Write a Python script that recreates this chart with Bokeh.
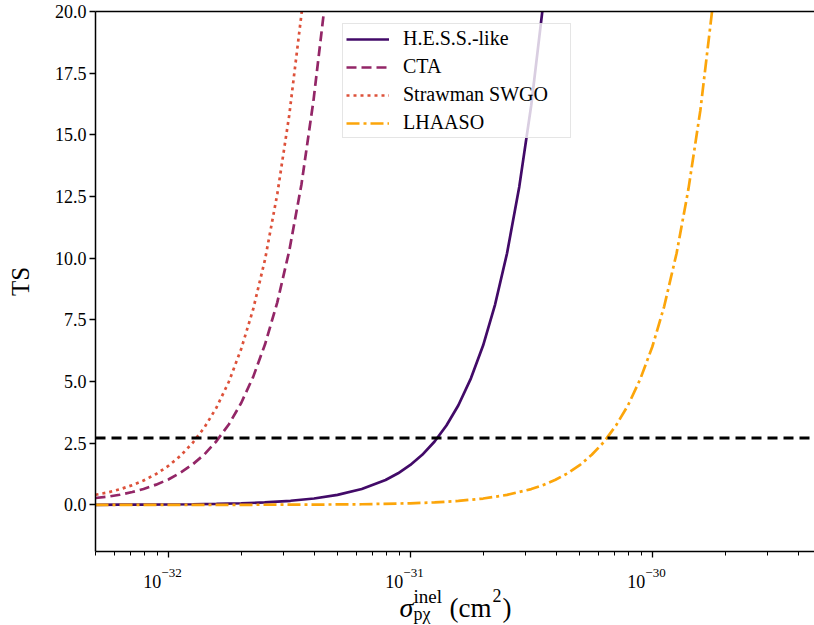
import numpy as np
from bokeh.plotting import figure
from bokeh.layouts import column
from bokeh.models import (Span, Legend, LegendItem, FixedTicker, CustomJSTickFormatter,
                          LogAxis, NumeralTickFormatter, Range1d, LinearScale)
from bokeh.core.properties import value
from bokeh.embed import file_html
from bokeh.resources import INLINE

# ---------------- data ----------------
sigma_hess = [5.0e-33, 6.3e-33, 7.9e-33, 1.0e-32, 1.26e-32, 1.58e-32, 2.0e-32, 2.5e-32, 3.2e-32,
              4.0e-32, 5.0e-32, 6.3e-32, 7.9e-32, 8.9e-32, 1.0e-31, 1.12e-31, 1.26e-31, 1.41e-31,
              1.58e-31, 1.78e-31, 2.0e-31, 2.24e-31, 2.51e-31, 2.82e-31, 3.16e-31, 3.55e-31, 3.98e-31]
ts_hess = [0.004, 0.0064, 0.010, 0.016, 0.026, 0.040, 0.065, 0.10, 0.166,
           0.259, 0.405, 0.642, 1.01, 1.28, 1.62, 2.03, 2.57, 3.22,
           4.04, 5.13, 6.47, 8.12, 10.2, 12.9, 16.2, 20.4, 25.6]

sigma_cta = [5.0e-33, 5.6e-33, 6.3e-33, 7.1e-33, 7.9e-33, 8.9e-33, 1.0e-32, 1.12e-32, 1.26e-32,
             1.41e-32, 1.58e-32, 1.78e-32, 2.0e-32, 2.24e-32, 2.51e-32, 2.82e-32, 3.16e-32,
             3.55e-32, 3.98e-32, 4.47e-32, 5.0e-32]
ts_cta = [0.28, 0.33, 0.41, 0.52, 0.645, 0.82, 1.03, 1.30, 1.64,
          2.05, 2.58, 3.27, 4.13, 5.18, 6.51, 8.21, 10.3,
          13.0, 16.4, 20.6, 25.8]

sigma_swgo = [5.0e-33, 5.6e-33, 6.3e-33, 7.1e-33, 7.9e-33, 8.9e-33, 1.0e-32, 1.12e-32, 1.26e-32,
              1.41e-32, 1.58e-32, 1.78e-32, 2.0e-32, 2.24e-32, 2.51e-32, 2.82e-32, 3.16e-32,
              3.55e-32, 3.98e-32]
ts_swgo = [0.41, 0.50, 0.63, 0.80, 0.99, 1.25, 1.58, 1.98, 2.51,
           3.14, 3.94, 5.00, 6.32, 7.92, 9.95, 12.6, 15.8,
           19.9, 25.0]

sigma_lhaaso = [5.0e-33, 1.0e-32, 2.0e-32, 4.0e-32, 6.3e-32, 1.0e-31, 1.26e-31, 1.58e-31, 2.0e-31,
                2.51e-31, 3.16e-31, 3.55e-31, 3.98e-31, 4.47e-31, 5.01e-31, 5.62e-31, 6.31e-31,
                7.08e-31, 7.94e-31, 8.91e-31, 1.0e-30, 1.12e-30, 1.26e-30, 1.41e-30, 1.58e-30,
                1.78e-30, 2.0e-30]
ts_lhaaso = [0.0002, 0.0006, 0.0026, 0.010, 0.025, 0.064, 0.10, 0.16, 0.257,
             0.404, 0.64, 0.81, 1.02, 1.28, 1.61, 2.03, 2.55,
             3.22, 4.04, 5.09, 6.41, 8.05, 10.2, 12.8, 16.0,
             20.3, 25.7]

threshold = 2.71
series_labels = ["H.E.S.S.-like", "CTA", "Strawman SWGO", "LHAASO"]
x_major_ticks = [1e-32, 1e-31, 1e-30]
x_tick_base = ["10", "10", "10"]
x_tick_exp = ["\u221232", "\u221231", "\u221230"]
y_ticks = [0.0, 2.5, 5.0, 7.5, 10.0, 12.5, 15.0, 17.5, 20.0]

# ---------------- styling ----------------
colors = ["#420a68", "#932667", "#dd513a", "#fca50a"]
FONT = "Liberation Serif"
XMIN, XMAX = 5e-33, 4.68e-30
YMIN, YMAX = -1.89, 20.0
W = 814
TOP_H = 559           # main plot height (frame 11..551)
BOT_H = 625 - TOP_H   # strip holding x tick labels and x-axis title

p = figure(x_axis_type="log", x_range=Range1d(XMIN, XMAX), y_range=Range1d(YMIN, YMAX),
           width=W, height=TOP_H, output_backend="svg", toolbar_location=None,
           min_border_left=95, min_border_right=0, min_border_top=11, min_border_bottom=8)
p.grid.visible = False
p.outline_line_color = None
p.background_fill_color = "white"
p.border_fill_color = "white"

minor = [m * 10.0 ** e for e in range(-34, -28) for m in range(2, 10)]
minor = [t for t in minor if XMIN * 0.999 <= t <= XMAX]

xb = p.below[0]
xb.ticker = FixedTicker(ticks=x_major_ticks, minor_ticks=minor)
xb.formatter = CustomJSTickFormatter(code="return '';")
xb.major_label_text_font_size = "1px"
xb.major_label_standoff = 0
xb.major_tick_out = 6
xb.major_tick_in = 0
xb.minor_tick_out = 4
xb.minor_tick_in = 0
xb.axis_line_width = 1.5
xb.axis_line_color = "black"
xb.major_tick_line_width = 1.3
xb.minor_tick_line_width = 1.0

yl = p.left[0]
yl.ticker = FixedTicker(ticks=y_ticks)
yl.formatter = NumeralTickFormatter(format="0.0")
yl.minor_tick_line_color = None
yl.major_tick_out = 6
yl.major_tick_in = 0
yl.axis_line_width = 1.5
yl.axis_line_color = "black"
yl.major_tick_line_width = 1.3
yl.major_label_text_font = FONT
yl.major_label_text_font_size = "18px"
yl.major_label_text_color = "black"
yl.major_label_standoff = 3
yl.axis_label = "TS"
yl.axis_label_text_font = FONT
yl.axis_label_text_font_size = "25px"
yl.axis_label_text_font_style = "normal"
yl.axis_label_text_color = "black"
yl.axis_label_standoff = 18

top = LogAxis(ticker=FixedTicker(ticks=[]), major_label_text_font_size="0px",
              major_tick_line_color=None, minor_tick_line_color=None,
              major_tick_out=0, minor_tick_out=0, major_label_standoff=0,
              axis_line_width=1.5, axis_line_color="black")
p.add_layout(top, "above")

# threshold line
p.add_layout(Span(location=threshold, dimension="width", line_color="black",
                  line_width=2.8, line_dash="10 6"))

r1 = p.line(sigma_hess, ts_hess, line_color=colors[0], line_width=2.7)
r2 = p.line(sigma_cta, ts_cta, line_color=colors[1], line_width=2.7, line_dash="10 5")
r3 = p.line(sigma_swgo, ts_swgo, line_color=colors[2], line_width=2.7, line_dash="3 4")
r4 = p.line(sigma_lhaaso, ts_lhaaso, line_color=colors[3], line_width=2.7, line_dash="13 4 3 4")

legend = Legend(items=[LegendItem(label=lab, renderers=[r]) for lab, r in
                       zip(series_labels, [r1, r2, r3, r4])],
                location=(247, 413), label_text_font=FONT, label_text_font_size="20px",
                label_text_color="black",
                glyph_width=43, glyph_height=20, label_height=20, label_width=164,
                spacing=5, padding=3,
                margin=0, label_standoff=14, border_line_color="#cccccc", border_line_width=1,
                background_fill_alpha=0.8)
p.add_layout(legend)

# ---------------- strip below: x tick labels + x-axis title ----------------
p2 = figure(x_axis_type="log", x_range=p.x_range, y_range=Range1d(0, BOT_H),
            width=W, height=BOT_H, output_backend="svg", toolbar_location=None,
            x_axis_location=None, y_axis_location=None,
            min_border_left=95, min_border_right=0, min_border_top=0, min_border_bottom=0)
p2.grid.visible = False
p2.outline_line_color = None
p2.background_fill_color = "white"
p2.border_fill_color = "white"
p2.extra_x_ranges = {"px": Range1d(95, W)}
p2.extra_x_scales = {"px": LinearScale()}


def yb(page_y):  # page baseline -> strip coordinate (layout of text only)
    return TOP_H + BOT_H - page_y


# tick labels, placed at the tick values through the log scale
p2.text(x=x_major_ticks, y=[yb(581)] * 3, text=x_tick_base, text_font=value(FONT),
        text_font_size=value("18px"), text_align="right", text_baseline="alphabetic",
        x_offset=-7, text_color="black")
p2.text(x=x_major_ticks, y=[yb(572)] * 3, text=x_tick_exp, text_font=value(FONT),
        text_font_size=value("13px"), text_align="left", text_baseline="alphabetic",
        x_offset=-7, text_color="black")

# axis title sigma^{inel}_{p chi} (cm^2) from text pieces
title_text = ["\u03c3", "inel", "p\u03c7", "(cm", "2", ")"]
title_px = [399, 413, 413, 449, 492, 502]
title_py = [607, 596, 613, 607, 595, 607]
title_fs = ["28px", "19px", "18px", "27px", "18px", "27px"]
title_st = ["italic", "normal", "normal", "normal", "normal", "normal"]
for t, px, py, fs, st in zip(title_text, title_px, title_py, title_fs, title_st):
    p2.text(x=[px], y=[yb(py)], text=[t], x_range_name="px", text_font=value(FONT),
            text_font_size=value(fs), text_font_style=st, text_align="left",
            text_baseline="alphabetic", text_color="black")

layout = column(p, p2, spacing=0)
open("out.html", "w").write(file_html(layout, INLINE))
